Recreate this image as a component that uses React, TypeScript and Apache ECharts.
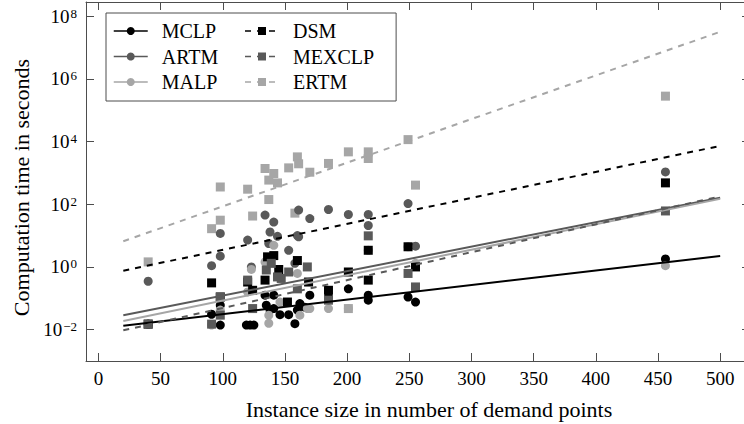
import React, { useEffect, useRef } from "react";
import * as echarts from "echarts";

// ---------- data (x = instance size, y = seconds) ----------
const seriesNames = ["MCLP", "ARTM", "MALP", "DSM", "MEXCLP", "ERTM"];

// fitted trend lines: value at x = 20 and x = 500
const fitX = [20, 500];
const mclpFit = [0.0132, 2.24];
const artmFit = [0.0288, 162];
const malpFit = [0.019, 148];
const dsmFit = [0.76, 7244];
const mexclpFit = [0.0095, 178];
const ertmFit = [6.6, 3.16e7];

const mclpPoints: [number, number][] = [
  [40, 0.015], [91, 0.031], [98, 0.014], [98, 0.06], [119, 0.014], [122, 0.014],
  [125, 0.014], [134, 0.126], [141, 0.126], [135, 0.06], [138, 0.042], [141, 0.047],
  [146, 0.03], [153, 0.03], [158, 0.0155], [160, 0.042], [162, 0.068], [166, 0.052],
  [170, 0.126], [185, 0.11], [201, 0.2], [217, 0.126], [217, 0.087], [249, 0.11],
  [255, 0.076], [456, 1.8],
];
const artmPoints: [number, number][] = [
  [40, 0.35], [91, 1.1], [98, 2.2], [98, 11.7], [120, 7.2], [123, 1.0], [134, 45],
  [138, 13], [141, 27], [137, 5.6], [144, 9.5], [153, 3.4], [158, 1.3], [160, 10],
  [161, 65], [161, 9.1], [170, 35], [185, 68], [201, 47], [217, 47], [217, 21],
  [249, 105], [255, 4.6], [456, 1070],
];
const malpPoints: [number, number][] = [
  [40, 0.015], [91, 0.014], [98, 0.042], [123, 0.83], [120, 0.16], [134, 1.45],
  [137, 0.016], [137, 0.029], [141, 4.9], [146, 0.076], [160, 0.62], [162, 0.029],
  [168, 0.047], [170, 0.047], [185, 0.047], [201, 0.047], [217, 3.4], [249, 4.4],
  [255, 1.3], [456, 1.1],
];
const dsmPoints: [number, number][] = [
  [40, 0.015], [91, 0.31], [98, 0.11], [120, 0.33], [124, 0.18], [134, 0.38],
  [136, 2.1], [141, 2.3], [145, 0.83], [152, 0.076], [160, 1.6], [169, 0.33],
  [185, 0.18], [201, 0.69], [217, 0.38], [217, 3.4], [249, 4.4], [255, 1.0], [456, 480],
];
const mexclpPoints: [number, number][] = [
  [40, 0.015], [91, 0.015], [98, 0.029], [98, 0.11], [120, 0.38], [124, 0.047],
  [135, 0.8], [139, 1.3], [144, 0.48], [147, 0.43], [153, 0.69], [160, 0.2],
  [168, 1.0], [185, 0.087], [217, 9.8], [249, 0.62], [255, 0.23], [456, 61],
];
const ertmPoints: [number, number][] = [
  [40, 1.45], [91, 16.6], [98, 31], [98, 355], [120, 302], [124, 42], [134, 1380],
  [137, 589], [137, 141], [141, 955], [144, 479], [153, 1445], [158, 52], [160, 3236],
  [161, 1950], [170, 1050], [185, 2000], [201, 4680], [201, 0.047], [217, 4680],
  [217, 2880], [249, 11500], [255, 407], [456, 2.8e5],
];

const BLACK = "#000000";
const DARK = "#595959";
const LIGHT = "#a6a6a6";
const AXIS = "#4d4d4d";
const FONT = "'Liberation Serif', 'Times New Roman', serif";

export default function App() {
  const ref = useRef<HTMLDivElement>(null);

  useEffect(() => {
    if (!ref.current) return;
    const chart = echarts.init(ref.current, null, { renderer: "svg" });

    const toLog = (pts: [number, number][]) => pts.map(([x, t]) => [x, Math.log10(t)]);
    const fit = (vals: number[]) => fitX.map((x, i) => [x, Math.log10(vals[i])]);

    const defs = [
      { name: "ERTM", color: LIGHT, symbol: "rect", dashed: true, pts: ertmPoints, fit: ertmFit },
      { name: "MCLP", color: BLACK, symbol: "circle", dashed: false, pts: mclpPoints, fit: mclpFit },
      { name: "ARTM", color: DARK, symbol: "circle", dashed: false, pts: artmPoints, fit: artmFit },
      { name: "MALP", color: LIGHT, symbol: "circle", dashed: false, pts: malpPoints, fit: malpFit },
      { name: "DSM", color: BLACK, symbol: "rect", dashed: true, pts: dsmPoints, fit: dsmFit },
      { name: "MEXCLP", color: DARK, symbol: "rect", dashed: true, pts: mexclpPoints, fit: mexclpFit },
    ];

    const scatterSeries = defs.map((d) => ({
      name: d.name + " points",
      type: "scatter",
      data: toLog(d.pts),
      symbol: d.symbol,
      symbolSize: 9,
      itemStyle: { color: d.color, opacity: 1 },
      z: 2,
      silent: true,
    }));

    const lineSeries = defs.map((d) => ({
      name: d.name,
      type: "line",
      data: fit(d.fit),
      showSymbol: false,
      symbol: d.symbol,
      symbolSize: 8,
      itemStyle: { color: d.color },
      lineStyle: { color: d.color, width: 2, type: d.dashed ? [6, 6] : "solid" },
      z: 4,
      silent: true,
    }));

    const supLabel = (v: number) => {
      const e = Math.round(v);
      const s = e < 0 ? "\u2212" + -e : String(e);
      return `{b|10}{s|${s}}`;
    };

    const axisLine = { show: true, onZero: false, lineStyle: { color: AXIS, width: 1 } };
    const axisTick = { show: true, inside: true, length: 8, lineStyle: { color: AXIS, width: 1 } };

    const xCommon = {
      type: "value",
      min: -10,
      max: 524,
      splitNumber: 10,
      splitLine: { show: false },
      axisLine,
      axisTick,
    };
    const yCommon = {
      type: "value",
      min: -3,
      max: 8.45,
      splitNumber: 5,
      splitLine: { show: false },
      axisLine,
      axisTick,
    };

    chart.setOption({
      animation: false,
      backgroundColor: "#ffffff",
      textStyle: { fontFamily: FONT },
      grid: { left: 86, right: -6, top: 2, bottom: 63, containLabel: false, outerBoundsMode: "none" },
      legend: {
        data: seriesNames,
        orient: "vertical",
        left: 106,
        top: 13,
        height: 82,
        padding: [8, 22, 9, 7],
        itemGap: 5.5,
        itemWidth: 34,
        itemHeight: 10,
        selectedMode: false,
        borderColor: AXIS,
        borderWidth: 1,
        borderRadius: 0,
        backgroundColor: "#ffffff",
        lineStyle: { width: 1.5 },
        textStyle: {
          fontSize: 20,
          fontFamily: FONT,
          color: "#000",
          width: 77,
          padding: [0, 0, 0, 9],
          backgroundColor: "rgba(255,255,255,0)",
        },
      },
      xAxis: [
        {
          ...xCommon,
          position: "bottom",
          name: "Instance size in number of demand points",
          nameLocation: "middle",
          nameGap: 37,
          nameTextStyle: { fontSize: 22, fontFamily: FONT, color: "#000", padding: [0, 0, 0, 22] },
          axisLabel: {
            show: true, margin: 8, fontSize: 19, fontFamily: FONT, color: "#000",
            showMinLabel: false, showMaxLabel: false,
          },
        },
        { ...xCommon, position: "top", axisLabel: { show: false } },
      ],
      yAxis: [
        {
          ...yCommon,
          position: "left",
          name: "Computation time in seconds",
          nameLocation: "middle",
          nameGap: 54,
          nameTextStyle: { fontSize: 22, fontFamily: FONT, color: "#000", padding: [0, 12, 0, 0] },
          axisLabel: {
            show: true, margin: 9, color: "#000",
            showMinLabel: false, showMaxLabel: false,
            formatter: supLabel,
            rich: {
              b: { fontSize: 19, fontFamily: FONT, color: "#000", lineHeight: 19, verticalAlign: "bottom" },
              s: { fontSize: 13, fontFamily: FONT, color: "#000", lineHeight: 13, verticalAlign: "top", padding: [0, 0, 8, 1] },
            },
          },
        },
        { ...yCommon, position: "right", axisLabel: { show: false } },
      ],
      series: [...scatterSeries, ...lineSeries],
    });

    return () => chart.dispose();
  }, []);

  return <div ref={ref} style={{ position: "fixed", left: 0, top: 0, width: 744, height: 424 }} />;
}
